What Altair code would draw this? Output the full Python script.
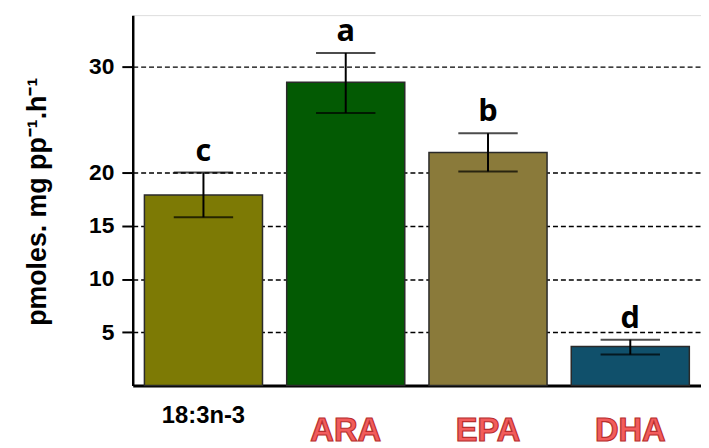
import altair as alt
import pandas as pd

categories = ["18:3n-3", "ARA", "EPA", "DHA"]
means = [17.9, 28.5, 21.9, 3.65]
upper = [20.0, 31.25, 23.7, 4.3]
lower = [15.8, 25.6, 20.1, 2.9]
letters = ["c", "a", "b", "d"]
bar_colors = ["#7d7a05", "#035a03", "#8a7a3a", "#10506b"]
y_ticks = [5, 10, 15, 20, 30]

df = pd.DataFrame({
    "cat": categories,
    "mean": means,
    "upper": upper,
    "lower": lower,
    "letter": letters,
})

W, H = 574, 374

xs = alt.Scale(domain=categories, paddingInner=0.17, paddingOuter=0.082)
ys = alt.Scale(domain=[0, 34.8], nice=False, zero=True)

x_enc = alt.X("cat:N", scale=xs, sort=categories,
              axis=alt.Axis(labels=False, ticks=False, title=None,
                            domainColor="black", domainWidth=3, grid=False))

base = alt.Chart(df)

bars = base.mark_bar(stroke="#2a2a2a", strokeWidth=1.5).encode(
    x=x_enc,
    y=alt.Y("mean:Q", scale=ys,
            axis=alt.Axis(values=y_ticks, title="pmoles. mg pp⁻¹.h⁻¹",
                          titleFont="Liberation Sans", titleFontSize=27,
                          titleFontWeight="bold", titleColor="black",
                          titleX=-96, titleY=188, titleAlign="center",
                          titleBaseline="middle", titleAngle=-90,
                          labelFont="Liberation Sans", labelFontSize=23,
                          labelFontWeight="bold", labelColor="black",
                          labelPadding=8, tickSize=11, tickWidth=2,
                          tickColor="black", domainColor="black",
                          domainWidth=2.5, grid=True, gridColor="black",
                          gridDash=[5, 3], gridWidth=1.5, gridOpacity=1)),
    color=alt.Color("cat:N", scale=alt.Scale(domain=categories, range=bar_colors),
                    legend=None),
)

rules = base.mark_rule(color="black", strokeWidth=2).encode(
    x=alt.X("cat:N", scale=xs, sort=categories),
    y=alt.Y("lower:Q", scale=ys),
    y2="upper:Q",
)

cap_hi = base.mark_tick(color="black", size=60, thickness=2).encode(
    x=alt.X("cat:N", scale=xs, sort=categories),
    y=alt.Y("upper:Q", scale=ys),
)
cap_lo = base.mark_tick(color="black", size=60, thickness=2).encode(
    x=alt.X("cat:N", scale=xs, sort=categories),
    y=alt.Y("lower:Q", scale=ys),
)

letter_text = base.mark_text(font="Open Sans", fontWeight="bold", fontSize=31,
                             baseline="alphabetic", dy=-12, color="black").encode(
    x=alt.X("cat:N", scale=xs, sort=categories),
    y=alt.Y("upper:Q", scale=ys),
    text="letter:N",
)

lab_black = base.transform_filter(alt.datum.cat == "18:3n-3").mark_text(
    font="Liberation Sans", fontWeight="bold", fontSize=24,
    baseline="alphabetic", color="black").encode(
    x=alt.X("cat:N", scale=xs, sort=categories),
    y=alt.value(H + 38),
    text="cat:N",
)

lab_red = base.transform_filter(alt.datum.cat != "18:3n-3").mark_text(
    font="Liberation Sans", fontWeight="bold", fontSize=33,
    baseline="alphabetic", fill="#f25c5c", stroke="#b82e2e",
    strokeWidth=1.2).encode(
    x=alt.X("cat:N", scale=xs, sort=categories),
    y=alt.value(H + 56),
    text="cat:N",
)

chart = alt.layer(bars, rules, cap_hi, cap_lo, letter_text, lab_black, lab_red).properties(
    width=W, height=H,
    autosize=alt.AutoSizeParams(type="none"),
    padding={"left": 126, "top": 5, "right": 0, "bottom": 60},
).configure_view(stroke=None).configure(background="white")

chart.save("out.html", embed_options={"renderer": "svg", "actions": False})
